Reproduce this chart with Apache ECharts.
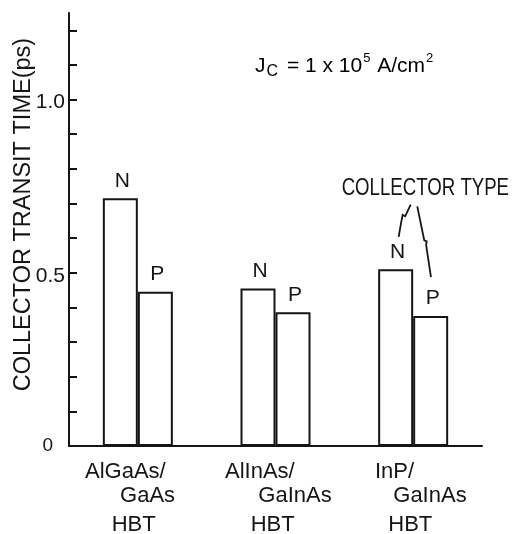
<!DOCTYPE html>
<html><head><meta charset="utf-8">
<script src="https://cdn.jsdelivr.net/npm/echarts@6/dist/echarts.min.js"></script>
<style>html,body{margin:0;padding:0;background:#fff}#c{width:515px;height:534px}</style>
</head><body><div id="c"></div>
<script>
// ---- data ----
const categories = ['AlGaAs/GaAs HBT', 'AlInAs/GaInAs HBT', 'InP/GaInAs HBT'];
const categoryLines = [['AlGaAs/', 'GaAs', 'HBT'], ['AlInAs/', 'GaInAs', 'HBT'], ['InP/', 'GaInAs', 'HBT']];
const seriesNames = ['N', 'P'];
const nTypeValues = [0.715, 0.455, 0.51];
const pTypeValues = [0.445, 0.386, 0.375];
const yTickValues = [0.1, 0.2, 0.3, 0.4, 0.5, 0.6, 0.7, 0.8, 0.9, 1.0, 1.1, 1.2];
const yLabelValues = [0, 0.5, 1.0];
const yMin = 0, yMax = 1.25;
const yTitle = 'COLLECTOR TRANSIT TIME(ps)';
const legendTitle = 'COLLECTOR TYPE';

// ---- style ----
const INK = '#151515';
const REG = '"Liberation Sans", Arial, sans-serif';

const chart = echarts.init(document.getElementById('c'), null, {renderer: 'canvas'});
const fmtTick = v => {
  const r = Math.round(v * 10) / 10;
  if (r === 0) return '{z|0}';
  return '{v|' + r.toFixed(1) + '}';
};
chart.setOption({
  backgroundColor: '#fff',
  animation: false,
  grid: {left: 69, right: 33, top: 13, bottom: 88, containLabel: false},
  xAxis: {
    type: 'category', data: categories,
    axisLine: {show: true, lineStyle: {color: INK, width: 2}},
    axisTick: {show: false}, axisLabel: {show: false}, splitLine: {show: false}
  },
  yAxis: {
    type: 'value', min: yMin, max: yMax,
    axisLine: {show: true, lineStyle: {color: INK, width: 2}},
    axisTick: {show: true, inside: true, length: 8, lineStyle: {color: INK, width: 2}, customValues: yTickValues},
    axisLabel: {
      show: true, customValues: yLabelValues, margin: 4, formatter: fmtTick,
      rich: {
        v: {fontFamily: REG, fontSize: 21, color: INK, padding: [6, 0, 0, 0]},
        z: {fontFamily: REG, fontSize: 19, color: INK, padding: [0, 12, 0, 0]}
      }
    },
    splitLine: {show: false}
  },
  series: [nTypeValues, pTypeValues].map((vals, i) => ({
    type: 'bar', name: seriesNames[i], data: vals,
    barWidth: 35, barGap: '0%',
    itemStyle: {color: '#fff', borderColor: INK, borderWidth: 2},
    label: {show: true, position: 'top', distance: 7, offset: [2, 0], formatter: seriesNames[i],
      fontFamily: REG, fontSize: 21, color: INK}
  }))
});

// ---- annotations positioned through the chart's own scales ----
const g = [];
const axisY = chart.convertToPixel({yAxisIndex: 0}, 0);
const lineLeft = [[-52.8, -17.8, -26.1], [-50.5, -17.2, -24.8], [-38.2, -19.9, -24.9]];
const lineDy = [26, 50, 79];
categories.forEach((c, i) => {
  const cx = chart.convertToPixel({xAxisIndex: 0}, c);
  categoryLines[i].forEach((t, j) => {
    g.push({type: 'text', x: cx + lineLeft[i][j], y: axisY + lineDy[j],
      style: {text: t, fill: INK, font: '22px ' + REG, align: 'left', verticalAlign: 'middle'}});
  });
});
// y-axis title
g.push({type: 'text', x: 23.5, y: 214.6, rotation: Math.PI / 2,
  style: {text: yTitle, fill: INK, font: '23.5px ' + REG, align: 'center', verticalAlign: 'middle'}});
// J_C annotation
g.push({type: 'text', x: 255, y: 66,
  style: {
    text: '{m|J}{sub|C}{m| = 1 x 10}{sup|5}{m| A/cm}{sup|2}',
    align: 'left', verticalAlign: 'middle',
    rich: {
      m: {fontFamily: REG, fontSize: 21, color: INK, lineHeight: 28},
      sub: {fontFamily: REG, fontSize: 16, color: INK, lineHeight: 16, verticalAlign: 'bottom', padding: [0, 3, 0, 1]},
      sup: {fontFamily: REG, fontSize: 13, color: INK, lineHeight: 13, verticalAlign: 'top', padding: [0, 1, 0, 1]}
    }
  }});
// collector type callout anchored to InP N bar
const anchor = chart.convertToPixel({xAxisIndex: 0, yAxisIndex: 0}, [categories[2], nTypeValues[2]]);
const ax = anchor[0], ay = anchor[1];
g.push({type: 'text', x: ax - 71.5, y: ay - 80.5, scaleX: 0.81,
  style: {text: legendTitle, fill: INK, font: '23px ' + REG, align: 'left', verticalAlign: 'middle'}});
const leftPts = [[-2.5, -64.7], [-8, -53], [-10.5, -54.5], [-12, -47], [-14.5, -32.5]];
const rightPts = [[4.1, -63], [11.1, -29], [13.5, -28], [13, -24], [17.8, 7.7]];
[leftPts, rightPts].forEach(pts => {
  g.push({type: 'polyline', shape: {points: pts.map(p => [ax + p[0], ay + p[1]])},
    style: {stroke: INK, lineWidth: 1.8, fill: null}});
});
chart.setOption({graphic: g});
</script>
</body></html>
